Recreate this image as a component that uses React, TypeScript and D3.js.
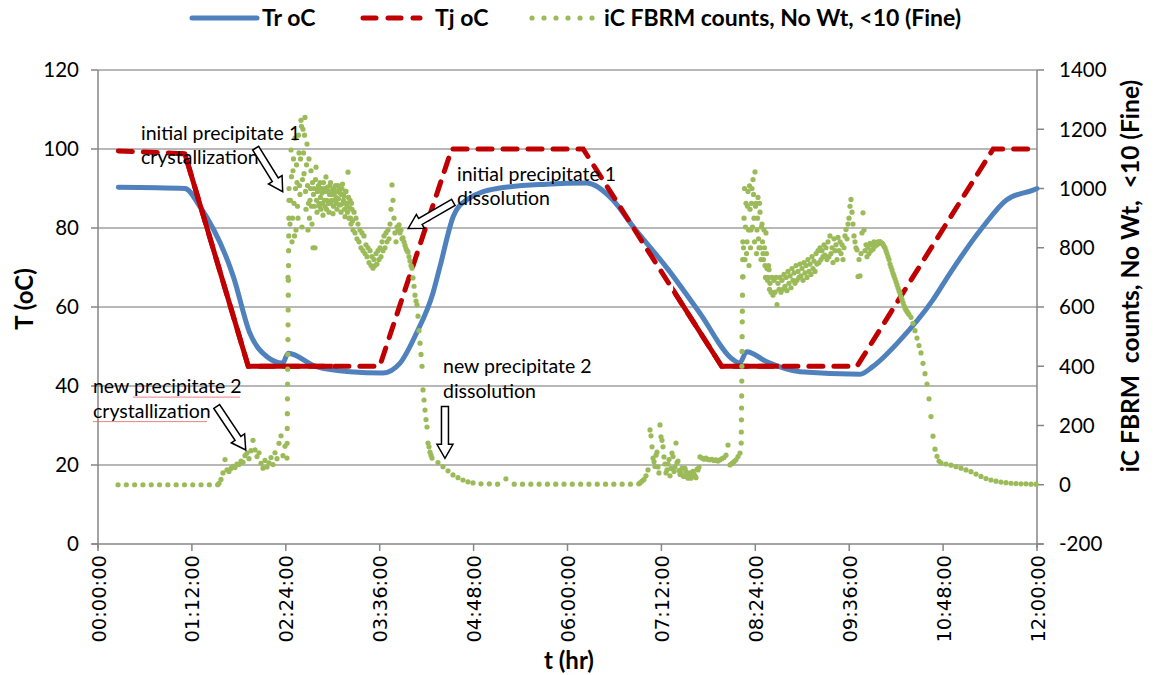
import React from 'react';
import * as d3 from 'd3';

const W = 1158;
const H = 675;
const plot = { left: 98, right: 1037, top: 70, bottom: 544 };

// Tr oC : reactor temperature, time in hours
const trHours = [0.26, 1.11, 1.3, 1.73, 1.94, 2.16, 2.36, 2.43, 2.79, 3.22, 3.64, 3.86, 4.07, 4.28, 4.37, 4.54, 4.71, 5.1, 5.73, 6.24, 6.58, 6.84, 7.27, 7.69, 8.12, 8.2, 8.29, 8.54, 8.97, 9.74, 9.9, 10.25, 10.67, 10.89, 11.31, 11.61, 11.95, 12.0];
const trTemp = [90.3, 90.0, 85.5, 67.7, 53.4, 47.4, 45.8, 48.3, 44.9, 43.6, 43.3, 45.8, 53.4, 63.5, 70.2, 82.9, 87.1, 90.0, 91.1, 91.4, 87.1, 80.3, 69.9, 58.5, 46.6, 45.8, 48.7, 46.2, 43.6, 43.0, 44.9, 51.6, 61.8, 68.6, 80.3, 87.1, 89.6, 90.0];

// Tj oC : jacket temperature
const tjHours = [0.26, 1.11, 1.92, 3.6, 4.52, 6.2, 7.97, 9.7, 11.44, 12.0];
const tjTemp = [99.5, 98.8, 45, 45, 100, 100, 45, 45, 100, 100];

// iC FBRM counts (No Wt, <10 Fine): logged runs, each with start time (h), sample interval (h), counts
const fbrmRuns = [
  { start: 0.256, step: 0.1061, counts: [0, 0, 0, 0, 0, 0, 0, 0, 0, 0, 0, 0, 0] },
  { start: 1.5463, step: 0.02556, counts: [5, 18, 40, 85, 50, 45, 55, 62, 58, 70, 68, 80, 76, 98, 107, 88, 115, 150, 118, 95, 108, 72, 56, 82, 60, 74, 92, 68, 108, 88, 140, 165, 98, 130] },
  { start: 2.4153, step: 0.0015, counts: [90, 140, 190, 240, 290, 340, 390, 440, 490, 540, 590, 640, 690, 740, 790, 840, 900, 960] },
  { start: 2.4281, step: 0.01278, counts: [
    700, 1000, 880, 1130, 820, 1060, 950, 1170, 860, 1020,
    900, 1120, 980, 1230, 870, 1200, 1050, 1240, 930, 1150,
    860, 1100, 960, 1060, 880, 800, 1000, 800, 1072, 920,
    1000, 950, 1020, 930, 985, 910, 1000, 940, 1039, 960,
    990, 920, 1010, 950, 980, 915, 1000, 960, 970, 930,
    1010, 945, 985, 920, 1000, 950, 975, 905, 990, 940,
    1055, 900, 960, 880, 930, 860, 920, 850, 900, 830,
    880, 820, 860, 800, 850, 790, 840, 780, 810, 770,
    800, 750, 790, 740, 770, 731, 760, 740, 780, 745,
    790, 760, 800, 770, 820, 790, 840, 800, 850, 820,
    860, 830, 880, 930, 1012, 960, 900, 850, 820, 870,
    860, 877, 850, 860, 830, 833, 820, 808, 797, 790,
    786, 770, 755, 740, 731, 698, 670, 640, 620, 607] },
  { start: 2.4601, step: 0.01278, counts: [
    960, 1040, 900, 1100, 840, 1000, 1080, 940, 1180, 1010,
    1100, 1210, 1030, 1120, 1180, 990, 1080, 1010, 950, 900,
    1000, 940, 1020, 980, 940, 1030, 960, 990, 1010, 940,
    970, 1000, 950, 1020, 960, 990, 930, 1005, 950, 980,
    1020, 960, 995, 940, 985, 1010, 950, 990, 965, 1000,
    945, 980, 1015, 960, 930, 990, 950, 920, 970, 935,
    900, 950, 890] },
  { start: 4.0895, step: 0.01278, counts: [569, 520, 478, 440, 400, 320, 286, 252, 220, 195, 141, 128, 110, 100, 90] },
  { start: 4.345, step: 0.0639, counts: [75, 61, 47, 33, 24, 16, 10, 6] },
  { start: 4.8946, step: 0.1061, counts: [3, 3, 2, 20, 2, 2, 2, 2, 2, 2, 2, 2, 2, 2, 2, 2, 2, 2, 2, 3] },
  { start: 6.9265, step: 0.02556, counts: [
    6, 12, 18, 30, 50, 185, 128, 78, 100, 60,
    202, 150, 94, 40, 70, 30, 107, 45, 141, 80,
    35, 56, 28, 45, 22, 40, 28, 36, 24, 50,
    94, 90, 86, 90, 85, 84, 86, 82, 84, 80,
    84, 88, 92, 100, 134, 67, 72, 78, 84, 95,
    107] },
  { start: 7.0671, step: 0.02556, counts: [165, 90, 62, 110, 40, 162, 128, 70, 50, 85, 55, 95, 60, 75, 48, 40, 30, 55, 28, 38, 22, 45, 30, 52, 60] },
  { start: 8.2198, step: 0.0015, counts: [141, 178, 219, 259, 300, 350, 400, 450, 500, 550, 586, 640, 702, 760, 820] },
  { start: 8.2428, step: 0.01278, counts: [
    702, 900, 760, 950, 820, 990, 740, 930, 860, 1000,
    1030, 900, 1056, 950, 860, 970, 800, 920, 760, 880,
    780, 860, 740, 850, 730, 700, 726, 680, 650, 700,
    640, 690, 650, 700, 608, 680, 660, 700, 650, 690,
    660, 710, 670, 700, 655, 720, 680, 705, 665, 730,
    690, 715, 680, 740, 690, 720, 700, 745, 705, 730,
    690, 750, 715, 740, 700, 760, 720, 745, 710, 770,
    730, 755, 720, 780, 745, 790, 750, 800, 760, 790,
    770, 810, 775, 800, 760, 820, 770, 840, 780, 800,
    750, 830, 790, 810, 760, 835, 790, 820, 780, 810,
    760, 800, 840, 862, 830, 880, 900, 940, 963, 920,
    880, 840, 820, 800, 793, 703, 760, 705, 780, 850,
    918, 860, 790, 810, 770, 800, 780, 815, 790, 810,
    795, 820, 805, 815, 810, 820, 815, 821, 817, 815,
    812, 805, 800, 790, 780, 770, 760, 745, 735, 725,
    714, 705, 695, 685, 675, 665, 655, 647, 635, 625,
    615, 605, 597, 590, 585, 580, 575] },
  { start: 8.2492, step: 0.01278, counts: [800, 1000, 870, 780, 940, 860, 1009, 800, 950, 870, 980, 820, 940, 780, 900, 830, 950, 800, 870, 820, 760, 800, 700, 780, 690, 740, 660] },
  { start: 10.3898, step: 0.02556, counts: [565, 545, 520, 495, 470, 445, 410, 375, 340, 290, 230, 164, 120, 96, 80, 74] },
  { start: 10.8371, step: 0.0639, counts: [70, 66, 61, 56, 50, 44, 36, 28, 21, 16, 12, 9, 7, 5, 4, 3, 3, 2, 2] },
];

const tempTicks = [0, 20, 40, 60, 80, 100, 120];
const countTicks = [-200, 0, 200, 400, 600, 800, 1000, 1200, 1400];
const timeTicks = [0, 1.2, 2.4, 3.6, 4.8, 6.0, 7.2, 8.4, 9.6, 10.8, 12.0];
const timeTickLabels = ['00:00:00', '01:12:00', '02:24:00', '03:36:00', '04:48:00', '06:00:00', '07:12:00', '08:24:00', '09:36:00', '10:48:00', '12:00:00'];

const notes = [
  { lines: ['initial precipitate 1', 'crystallization'], at: [0.55, 102.3], from: [2.015, 100.2], to: [2.36, 89.2], spell: false },
  { lines: ['initial precipitate 1', 'dissolution'], at: [4.588, 91.9], from: [4.541, 86.5], to: [3.965, 79.9], spell: false },
  { lines: ['new precipitate 2', 'crystallization'], at: [-0.064, 38.2], from: [1.517, 34.8], to: [1.888, 23.8], spell: true },
  { lines: ['new precipitate 2', 'dissolution'], at: [4.409, 43.2], from: [4.434, 34.8], to: [4.434, 21.7], spell: false },
];

const BLUE = '#4f81bd';
const RED = '#c00000';
const GREEN = '#9bbb59';
const GRID = '#a0a0a0';
const AXIS = '#868686';
const FONT = 'Lato, "Open Sans", sans-serif';

const x = d3.scaleLinear().domain([0, 12]).range([plot.left, plot.right]);
const yT = d3.scaleLinear().domain([0, 120]).range([plot.bottom, plot.top]);
const yC = d3.scaleLinear().domain([-200, 1400]).range([plot.bottom, plot.top]);

function blockArrow(p0: number[], p1: number[], shaft = 7, head = 16, headLen = 14) {
  const dx = p1[0] - p0[0];
  const dy = p1[1] - p0[1];
  const len = Math.hypot(dx, dy);
  const ux = dx / len, uy = dy / len;
  const nx = -uy, ny = ux;
  const bx = p1[0] - ux * headLen, by = p1[1] - uy * headLen;
  const pts = [
    [p0[0] + nx * shaft / 2, p0[1] + ny * shaft / 2],
    [bx + nx * shaft / 2, by + ny * shaft / 2],
    [bx + nx * head / 2, by + ny * head / 2],
    [p1[0], p1[1]],
    [bx - nx * head / 2, by - ny * head / 2],
    [bx - nx * shaft / 2, by - ny * shaft / 2],
    [p0[0] - nx * shaft / 2, p0[1] - ny * shaft / 2],
  ];
  return 'M' + pts.map(p => p.join(',')).join('L') + 'Z';
}

export default function App() {
  const trLine = d3.line<number>()
    .x((_, i) => x(trHours[i]))
    .y(d => yT(d))
    .curve(d3.curveMonotoneX)(trTemp) || '';
  const tjLine = d3.line<number>()
    .x((_, i) => x(tjHours[i]))
    .y(d => yT(d))(tjTemp) || '';

  const fbrmPoints = fbrmRuns.flatMap(run =>
    run.counts.map((c, i) => [run.start + i * run.step, c]));

  // stretches where the logged jacket points are so dense the dash pattern reads as solid
  const solidSpans = [[1.05, 3.0], [7.35, 8.7]];

  return (
    <svg width={W} height={H} style={{ position: 'absolute', left: 0, top: 0, background: '#fff' }} fontFamily={FONT}>
      <defs>
        <clipPath id="solid-red">
          {solidSpans.map((s, i) => (
            <rect key={i} x={x(s[0])} y={0} width={x(s[1]) - x(s[0])} height={H} />
          ))}
        </clipPath>
      </defs>

      {/* grid */}
      {tempTicks.filter(t => t > 0).map(t => (
        <line key={t} x1={plot.left} x2={plot.right} y1={yT(t)} y2={yT(t)} stroke={GRID} strokeWidth={1.5} />
      ))}

      {/* axes */}
      <line x1={plot.left} x2={plot.left} y1={plot.top} y2={plot.bottom + 4} stroke={AXIS} strokeWidth={1.5} />
      <line x1={plot.right} x2={plot.right} y1={plot.top} y2={plot.bottom + 4} stroke={AXIS} strokeWidth={1.5} />
      <line x1={plot.left - 6} x2={plot.right + 6} y1={plot.bottom} y2={plot.bottom} stroke={AXIS} strokeWidth={1.5} />
      {tempTicks.map(t => (
        <g key={t}>
          <line x1={plot.left - 7} x2={plot.left} y1={yT(t)} y2={yT(t)} stroke={AXIS} strokeWidth={1.5} />
          <text x={79} y={yT(t)} dy="0.36em" textAnchor="end" fontSize={20.5} fill="#000">{t}</text>
        </g>
      ))}
      {countTicks.map(c => (
        <g key={c}>
          <line x1={plot.right} x2={plot.right + 7} y1={yC(c)} y2={yC(c)} stroke={AXIS} strokeWidth={1.5} />
          <text x={1059} y={yC(c)} dy="0.36em" textAnchor="start" fontSize={20.5} fill="#000">{c}</text>
        </g>
      ))}
      {timeTicks.map((t, i) => (
        <g key={t}>
          <line x1={x(t)} x2={x(t)} y1={plot.bottom} y2={plot.bottom + 7} stroke={AXIS} strokeWidth={1.5} />
          <text transform={`translate(${x(t) + 7.5},${555}) rotate(-90)`} textAnchor="end"
            fontFamily='"DejaVu Sans", sans-serif' fontSize={19.5} fill="#000">{timeTickLabels[i]}</text>
        </g>
      ))}

      {/* axis titles */}
      <text transform="translate(33,299) rotate(-90)" textAnchor="middle" fontWeight="bold" fontSize={24}>T (oC)</text>
      <text transform="translate(1139,276) rotate(-90)" textAnchor="middle" fontWeight="bold" fontSize={24.5} xmlSpace="preserve">{'iC FBRM  counts, No Wt,  <10 (Fine)'}</text>
      <text x={569} y={669} textAnchor="middle" fontWeight="bold" fontSize={24}>t (hr)</text>

      {/* series */}
      <path d={trLine} fill="none" stroke={BLUE} strokeWidth={5} strokeLinejoin="round" strokeLinecap="round" />
      <path d={tjLine} fill="none" stroke={RED} strokeWidth={5} strokeDasharray="14 11" strokeLinecap="round" />
      <path d={tjLine} fill="none" stroke={RED} strokeWidth={5} strokeLinejoin="round" clipPath="url(#solid-red)" />
      {fbrmPoints.map((p, i) => (
        <circle key={i} cx={x(p[0])} cy={yC(p[1])} r={2.6} fill={GREEN} />
      ))}

      {/* annotations */}
      {notes.map((n, i) => {
        const tx = x(n.at[0]);
        const ty = yT(n.at[1]);
        return (
          <g key={i}>
            <text x={tx} y={ty} fontSize={19.5} fill="#000">{n.lines[0]}</text>
            <text x={tx} y={ty + 24.5} fontSize={19.5} fill="#000">{n.lines[1]}</text>
            {n.spell && (
              <g stroke="#e06666" strokeWidth={1} opacity={0.8}>
                <line x1={tx + 40} x2={tx + 147} y1={ty + 4} y2={ty + 4} />
                <line x1={tx} x2={tx + 114} y1={ty + 28.5} y2={ty + 28.5} />
              </g>
            )}
            <path d={blockArrow([x(n.from[0]), yT(n.from[1])], [x(n.to[0]), yT(n.to[1])])}
              fill="#fff" stroke="#000" strokeWidth={1.5} strokeLinejoin="miter" />
          </g>
        );
      })}

      {/* legend */}
      <g>
        <line x1={192} x2={257} y1={18} y2={18} stroke={BLUE} strokeWidth={5} strokeLinecap="round" />
        <text x={262} y={26} fontWeight="bold" fontSize={23}>Tr oC</text>
        <line x1={363} x2={420} y1={18} y2={18} stroke={RED} strokeWidth={5} strokeDasharray="13 12" strokeLinecap="round" />
        <text x={435} y={26} fontWeight="bold" fontSize={23}>Tj oC</text>
        {[0, 1, 2, 3, 4, 5].map(k => (
          <circle key={k} cx={532 + k * 12} cy={18} r={2.6} fill={GREEN} />
        ))}
        <text x={604} y={26} fontWeight="bold" fontSize={23}>iC FBRM counts, No Wt, &lt;10 (Fine)</text>
      </g>
    </svg>
  );
}
